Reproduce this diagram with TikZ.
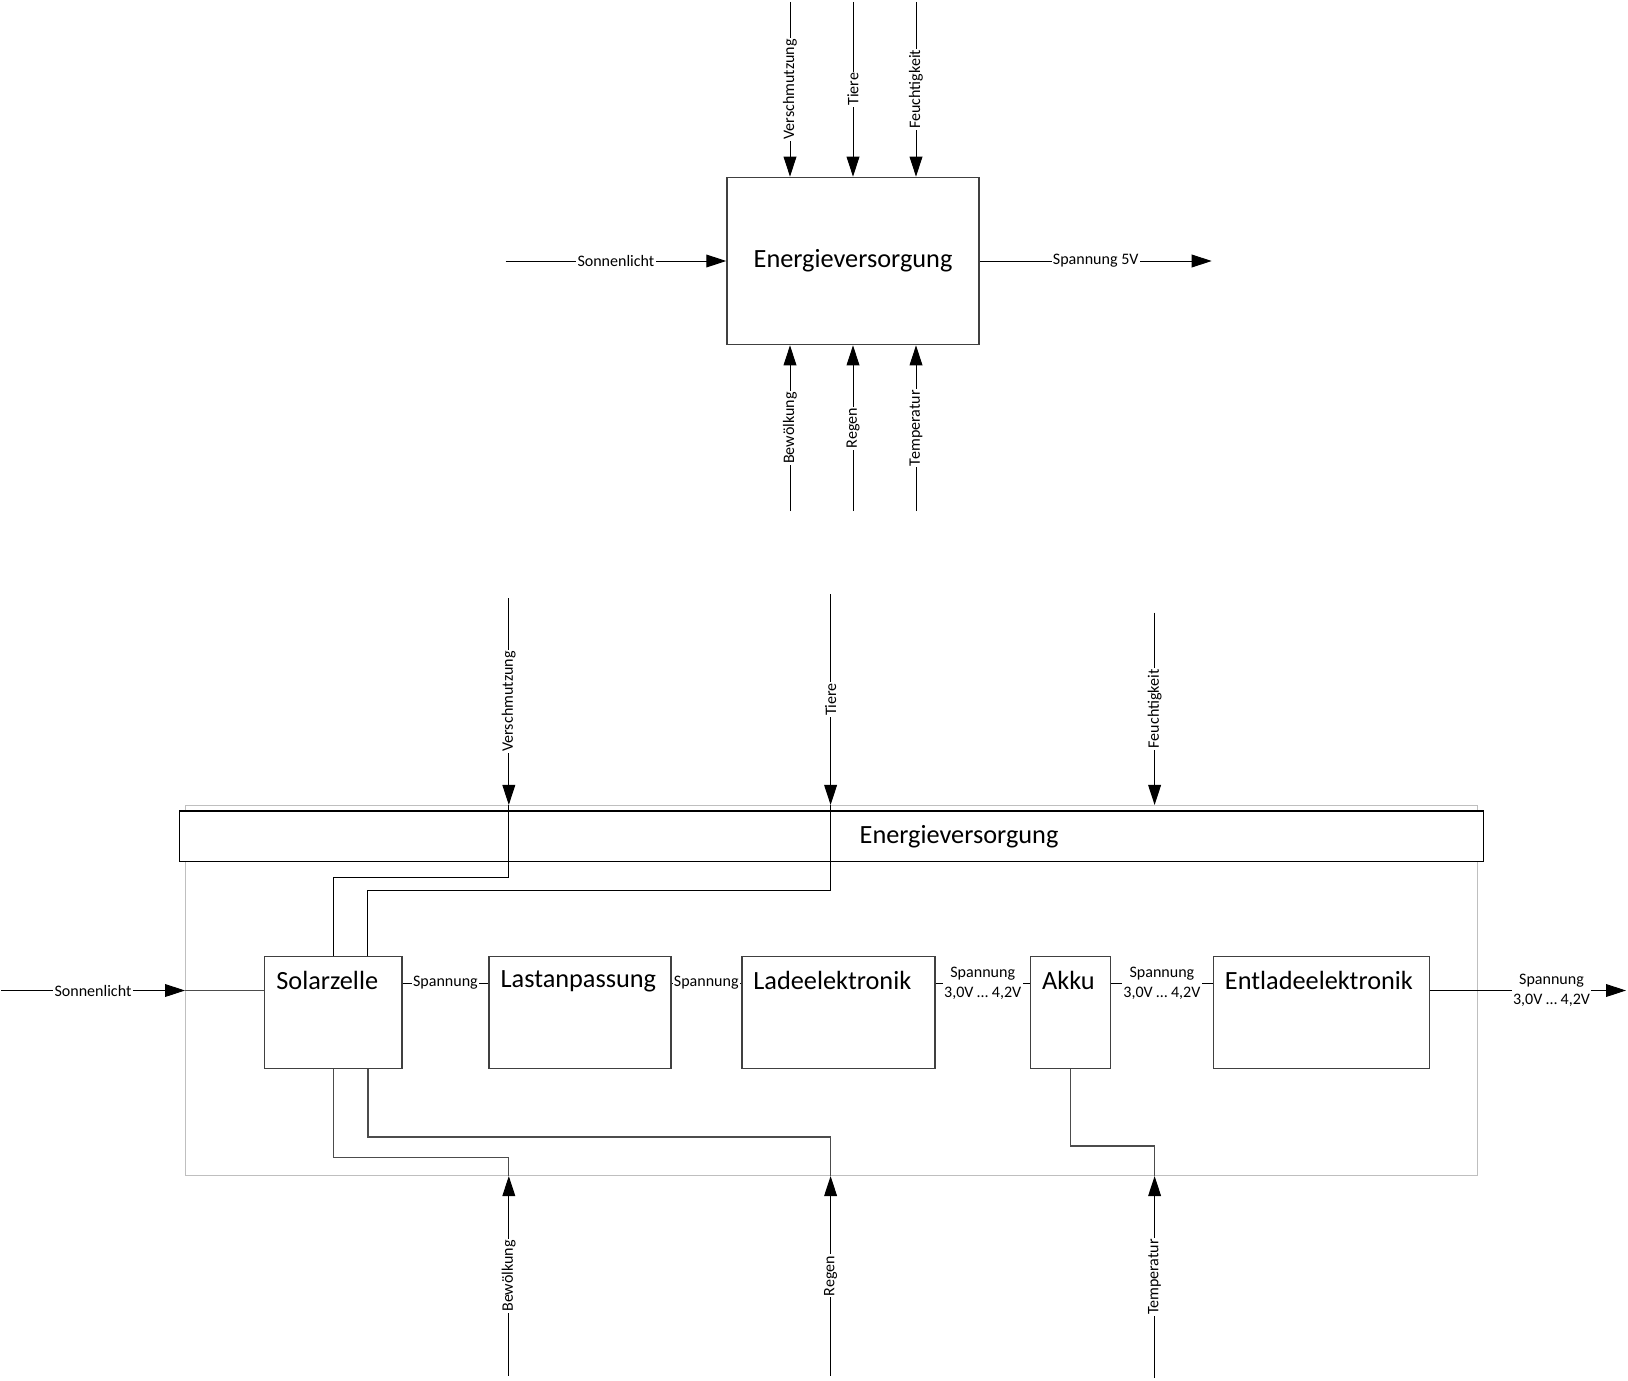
\documentclass[tikz,border=0pt]{standalone}
\usepackage{fontspec}
\setmainfont{Carlito}
\usepackage{tikz}
\usetikzlibrary{arrows.meta,positioning,calc}
\newcommand{\pxu}{0.025cm}
\tikzset{
  evbox/.style={draw=black!75, line width=1pt, inner sep=0pt},
  evtitle/.style={font=\fontsize{18.7}{22}\selectfont, inner sep=0pt},
  evblock/.style={evbox, minimum height=2.8cm, label={[anchor=north west, inner sep=0pt, font=\fontsize{18.7}{22}\selectfont, xshift=12*\pxu, yshift=-15*\pxu]north west:#1}},
  evlabel/.style={font=\fontsize{11.4}{14}\selectfont, fill=white, inner sep=1pt, align=center},
  evvlabel/.style={evlabel, rotate=90},
  evarrow/.style={-{Triangle[length=5mm, width=3.2mm]}, line width=0.7pt},
  evline/.style={line width=0.7pt},
  evwire/.style={line width=0.9pt, draw=black!70}
}
\begin{document}
\begin{tikzpicture}[x=\pxu, y=-\pxu]
\useasboundingbox (0,0) rectangle (1628,1380);

% black box
\node[evbox, evtitle, minimum width=6.3cm, minimum height=4.18cm] (ev) at (853,261) {Energieversorgung};
\coordinate (tVs) at (790,2);
\coordinate (tTi) at (853,2);
\coordinate (tFe) at (916,2);
\coordinate (bBe) at (790,511);
\coordinate (bRe) at (853,511);
\coordinate (bTe) at (916,511);
\coordinate (tSo) at (505.6,261);
\coordinate (tOut) at (1211.7,261);
\draw[evarrow] (tVs) -- node[evvlabel]{Verschmutzung} (tVs |- ev.north);
\draw[evarrow] (tTi) -- node[evvlabel]{Tiere} (tTi |- ev.north);
\draw[evarrow] (tFe) -- node[evvlabel]{Feuchtigkeit} (tFe |- ev.north);
\draw[evarrow] (bBe) -- node[evvlabel]{Bewölkung} (bBe |- ev.south);
\draw[evarrow] (bRe) -- node[evvlabel]{Regen} (bRe |- ev.south);
\draw[evarrow] (bTe) -- node[evvlabel]{Temperatur} (bTe |- ev.south);
\draw[evarrow] (tSo) -- node[evlabel]{Sonnenlicht} (ev.west);
\draw[evarrow] (ev.east) -- node[evlabel]{Spannung 5V} (tOut);

% white box
\node[evbox, draw=black!25, minimum width=32.29cm, minimum height=9.24cm] (sys) at (831.7,990.5) {};
\node[draw=black, line width=0.9pt, fill=white, inner sep=0pt, minimum width=32.6cm, minimum height=1.27cm] (bar) at (831.65,836.4) {};
\node[evtitle] (bartxt) at (959,837) {Energieversorgung};

\node[evblock=Solarzelle, minimum width=3.425cm] (sz) at (333.3,1012.4) {};
\node[evblock=Lastanpassung, minimum width=4.5425cm, right=2.145cm of sz] (la) {};
\node[evblock=Ladeelektronik, minimum width=4.8275cm, right=1.74cm of la] (le) {};
\node[evblock=Akku, minimum width=2cm, right=2.352cm of le] (ak) {};
\node[evblock=Entladeelektronik, minimum width=5.3975cm, right=2.535cm of ak] (el) {};

\coordinate (sig) at (0,983);
\draw[evline] (sz.east |- sig) -- node[evlabel]{Spannung} (la.west |- sig);
\draw[evline] (la.east |- sig) -- node[evlabel]{Spannung} (le.west |- sig);
\draw[evline] (le.east |- sig) -- node[evlabel]{Spannung\\3,0V … 4,2V} (ak.west |- sig);
\draw[evline] (ak.east |- sig) -- node[evlabel]{Spannung\\3,0V … 4,2V} (el.west |- sig);

\coordinate (iSo) at (1,990.5);
\coordinate (oOut) at (1626,990.5);
\draw[evarrow] (iSo) -- node[evlabel]{Sonnenlicht} (sys.west);
\draw[evwire] (sys.west) -- (sz.west |- sys.west);
\draw[evarrow] (el.east |- sys.west) -- node[evlabel, pos=0.62]{Spannung\\3,0V … 4,2V} (oOut);

\coordinate (iVs) at (508.8,598);
\coordinate (iTi) at (830.6,594);
\coordinate (iFe) at (1154.6,612.6);
\coordinate (iBe) at (508.8,1375.7);
\coordinate (iRe) at (830.6,1375.7);
\coordinate (iTe) at (1154.6,1378);
\draw[evarrow] (iVs) -- node[evvlabel]{Verschmutzung} (iVs |- sys.north);
\draw[evarrow] (iTi) -- node[evvlabel]{Tiere} (iTi |- sys.north);
\draw[evarrow] (iFe) -- node[evvlabel]{Feuchtigkeit} (iFe |- sys.north);
\draw[evarrow] (iBe) -- node[evvlabel]{Bewölkung} (iBe |- sys.south);
\draw[evarrow] (iRe) -- node[evvlabel]{Regen} (iRe |- sys.south);
\draw[evarrow] (iTe) -- node[evvlabel]{Temperatur} (iTe |- sys.south);

% wires inside
\coordinate (kVs) at (0,877.4);
\coordinate (kTi) at (0,890.8);
\coordinate (kBe) at (0,1157.7);
\coordinate (kRe) at (0,1137);
\coordinate (kTe) at (0,1146);
\coordinate (szTop) at ($(sz.north)!0.5!(sz.north east)$);
\coordinate (szBot) at ($(sz.south)!0.5!(sz.south east)$);
\draw[evline] (iVs |- sys.north) |- (sz.north |- kVs) -- (sz.north);
\draw[evline] (iTi |- sys.north) |- (szTop |- kTi) -- (szTop);
\draw[evwire] (sz.south) |- (iBe |- kBe) -- (iBe |- sys.south);
\draw[evwire] (szBot) |- (iRe |- kRe) -- (iRe |- sys.south);
\draw[evwire] (ak.south) |- (iTe |- kTe) -- (iTe |- sys.south);
\end{tikzpicture}
\end{document}
